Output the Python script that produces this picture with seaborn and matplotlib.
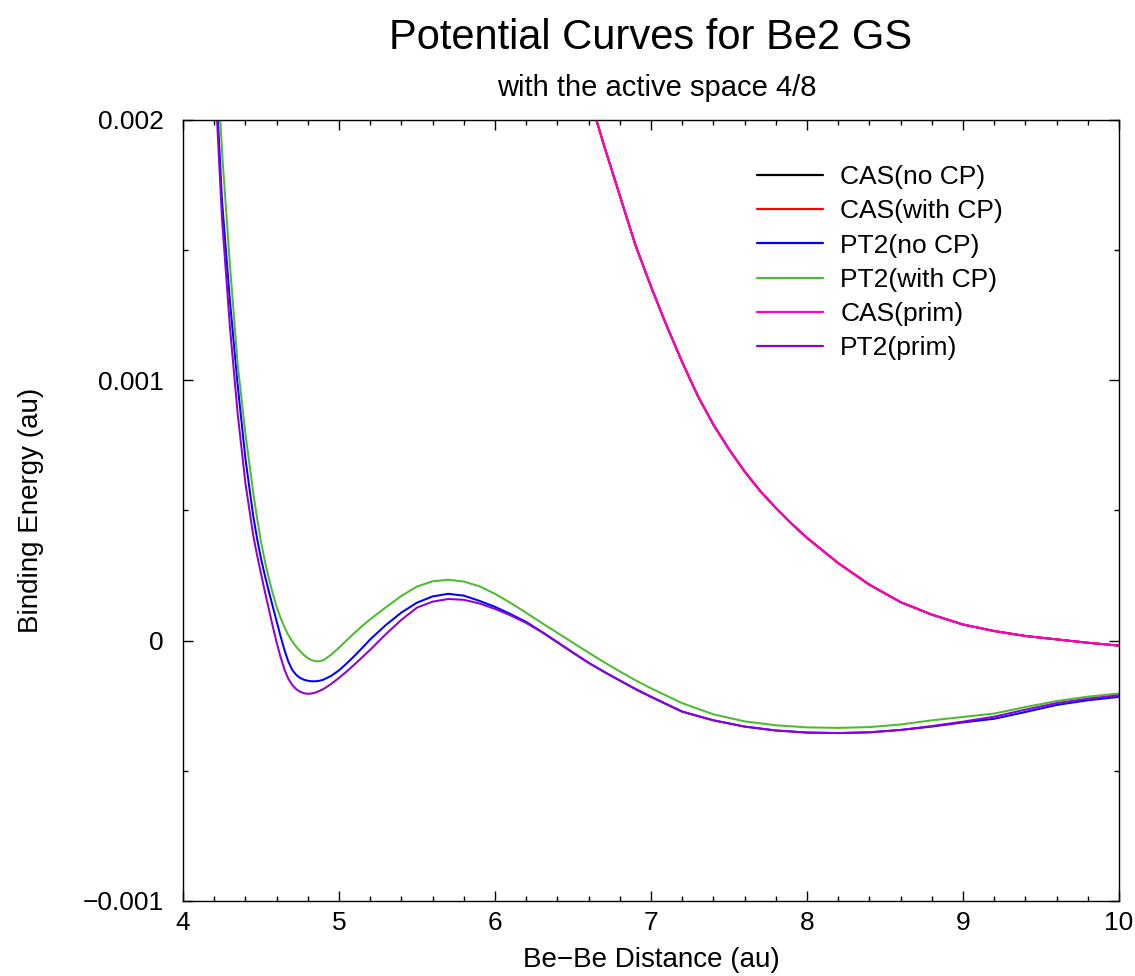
import numpy as np
import pandas as pd
import matplotlib
matplotlib.use("Agg")
import matplotlib.pyplot as plt
import seaborn as sns
from matplotlib.ticker import MultipleLocator, FixedFormatter, FixedLocator

# Be-Be distance grids (au)
r_cas = [6.6, 6.7, 6.8, 6.9, 7.0, 7.1, 7.2, 7.3, 7.4, 7.5, 7.6, 7.7, 7.8, 7.9, 8.0,
         8.2, 8.4, 8.6, 8.8, 9.0, 9.2, 9.4, 9.6, 9.8, 10.0]
r_pt2 = [4.20, 4.25, 4.30, 4.35, 4.40, 4.45, 4.475, 4.50, 4.525, 4.55, 4.575, 4.60,
         4.625, 4.65, 4.675, 4.70, 4.725, 4.75, 4.775, 4.80, 4.825, 4.85, 4.875,
         4.90, 4.95, 5.00, 5.05, 5.10, 5.15, 5.20, 5.30, 5.40, 5.50, 5.60, 5.70,
         5.80, 5.90, 6.00, 6.10, 6.20, 6.30, 6.40, 6.50, 6.60, 6.70, 6.80, 6.90,
         7.00, 7.20, 7.40, 7.60, 7.80, 8.00, 8.20, 8.40, 8.60, 8.80, 9.00, 9.20,
         9.40, 9.60, 9.80, 10.00]

# CASSCF binding energies (micro-hartree); the three CAS variants coincide
cas_no_cp = [2100, 1900, 1710, 1520, 1360, 1210, 1070, 940, 830, 735, 650, 575, 510,
             450, 395, 298, 215, 148, 100, 62, 37, 18, 5, -8, -19]
cas_with_cp = [2100, 1900, 1710, 1520, 1360, 1210, 1070, 940, 830, 735, 650, 575, 510,
               450, 395, 298, 215, 148, 100, 62, 37, 18, 5, -8, -19]
cas_prim = [2100, 1900, 1710, 1520, 1360, 1210, 1070, 940, 830, 735, 650, 575, 510,
            450, 395, 298, 215, 148, 100, 62, 37, 18, 5, -8, -19]

# CASPT2 binding energies (micro-hartree)
pt2_no_cp = [2280, 1690, 1310, 985, 700, 480, 392, 315, 250, 190, 132, 75,
             18, -35, -80, -112, -131, -143, -150, -154, -156, -156, -154,
             -150, -135, -114, -87, -58, -27, 5, 60, 108, 146, 170, 180,
             173, 153, 130, 102, 72, 34, -6, -46, -85, -120, -153, -186,
             -216, -273, -306, -330, -345, -353, -355, -352, -343, -330, -314, -300,
             -274, -247, -229, -216]
pt2_with_cp = [2450, 1880, 1450, 1065, 795, 570, 470, 380, 305, 240, 182, 130,
               88, 52, 22, -2, -23, -40, -55, -67, -75, -79, -79,
               -75, -54, -27, 2, 30, 57, 82, 128, 172, 208, 228, 234,
               227, 209, 180, 145, 107, 68, 30, -8, -46, -83, -118, -152,
               -183, -240, -283, -310, -325, -333, -335, -332, -322, -306, -293, -280,
               -255, -232, -215, -203]
pt2_prim = [2220, 1620, 1210, 875, 605, 405, 328, 257, 188, 122, 56, -6,
            -62, -110, -146, -170, -186, -196, -202, -204, -203, -199, -193,
            -186, -166, -143, -118, -91, -63, -35, 25, 80, 127, 150, 160,
            157, 143, 122, 97, 68, 33, -6, -46, -85, -120, -153, -185,
            -215, -272, -306, -330, -345, -353, -355, -352, -343, -328, -311, -292,
            -265, -240, -223, -210]

series = [
    ("CAS(no CP)", r_cas, cas_no_cp, "#000000"),
    ("CAS(with CP)", r_cas, cas_with_cp, "#ff0000"),
    ("PT2(no CP)", r_pt2, pt2_no_cp, "#0000ff"),
    ("PT2(with CP)", r_pt2, pt2_with_cp, "#4cbb2f"),
    ("CAS(prim)", r_cas, cas_prim, "#ff00c8"),
    ("PT2(prim)", r_pt2, pt2_prim, "#9000d8"),
]

sns.set_style("ticks")
plt.rcParams["font.family"] = ["Liberation Sans", "DejaVu Sans"]
plt.rcParams["text.color"] = "black"
plt.rcParams["axes.labelcolor"] = "black"
plt.rcParams["xtick.color"] = "black"
plt.rcParams["ytick.color"] = "black"

fig = plt.figure(figsize=(11.35, 9.76), dpi=100)
ax = fig.add_axes([183 / 1135, 1 - 901 / 976, (1119 - 183) / 1135, (901 - 120) / 976])

for name, xs, ys, col in series:
    df = pd.DataFrame({"r": xs, "E": np.asarray(ys) * 1e-6})
    sns.lineplot(data=df, x="r", y="E", ax=ax, color=col, lw=1.45, label=name,
                 sort=False)

ax.set_xlim(4, 10)
ax.set_ylim(-0.001, 0.002)
ax.xaxis.set_major_locator(MultipleLocator(1))
ax.xaxis.set_minor_locator(MultipleLocator(0.2))
ax.yaxis.set_major_locator(FixedLocator([-0.001, 0.0, 0.001, 0.002]))
ax.yaxis.set_major_formatter(FixedFormatter(["\u22120.001", "0", "0.001", "0.002"]))
ax.yaxis.set_minor_locator(MultipleLocator(0.0005))
ax.tick_params(which="both", direction="in", top=True, right=True,
               labelsize=19, width=1, color="black")
ax.tick_params(which="major", length=7)
ax.tick_params(which="minor", length=3.6)
ax.tick_params(axis="x", which="major", pad=7)
ax.tick_params(axis="y", which="major", pad=14)
for sp in ax.spines.values():
    sp.set_linewidth(1.0)
    sp.set_color("black")

ax.set_xlabel("Be\u2212Be Distance (au)", fontsize=20)
ax.set_ylabel("Binding Energy (au)", fontsize=20)
ax.xaxis.set_label_coords(0.5, -0.059)
ax.yaxis.set_label_coords(-0.149, 0.5)

fig.text(651 / 1135, 1 - 38 / 976, "Potential Curves for Be2 GS", ha="center",
         va="center", fontsize=30)
fig.text(657 / 1135, 1 - 88 / 976, "with the active space 4/8", ha="center",
         va="center", fontsize=21)

leg = ax.legend(loc="upper left", bbox_to_anchor=(757 / 1135, 1 - 165 / 976),
                bbox_transform=fig.transFigure, frameon=False, fontsize=19,
                borderpad=0, borderaxespad=0, handlelength=2.5,
                handletextpad=0.65, labelspacing=0.39)
for h in leg.get_lines():
    h.set_linewidth(1.6)

fig.savefig("out.png", dpi=100)
